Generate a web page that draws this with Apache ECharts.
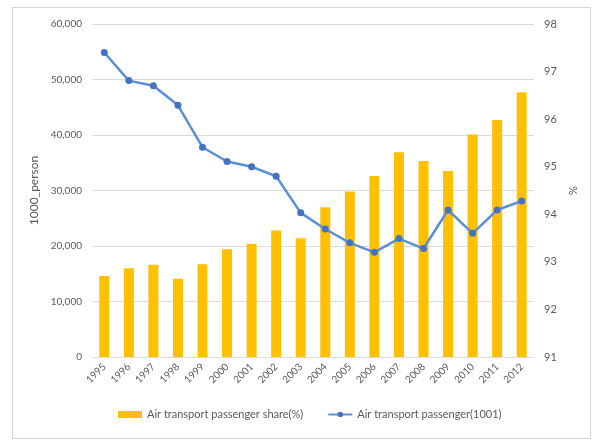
<!DOCTYPE html>
<html>
<head>
<meta charset="utf-8">
<script src="https://cdn.jsdelivr.net/npm/echarts@6/dist/echarts.min.js"></script>
<style>
    html, body { margin: 0; padding: 0; background: #fff; }
    #frame { position: absolute; left: 12px; top: 7px; width: 577px; height: 430px; border: 1px solid #d4d4d4; }
    #main { position: absolute; left: 0; top: 0; width: 598px; height: 441px; }
</style>
</head>
<body>
<div id="frame"></div>
<div id="main"></div>
<script>
let years = ['1995', '1996', '1997', '1998', '1999', '2000', '2001', '2002', '2003', '2004', '2005', '2006', '2007', '2008', '2009', '2010', '2011', '2012']
let shareData = [14600, 16000, 16600, 14100, 16700, 19400, 20400, 22800, 21400, 27000, 29800, 32600, 36900, 35300, 33500, 40100, 42700, 47700]
let passengerData = [97.4, 96.81, 96.7, 96.29, 95.41, 95.11, 95.0, 94.8, 94.03, 93.69, 93.4, 93.2, 93.49, 93.28, 94.09, 93.6, 94.09, 94.28]
let leftTicks = [0, 60000, 10000]
let rightTicks = [91, 98, 1]

let myChart = echarts.init(document.getElementById('main'))
let textColor = '#595959'
let option = {
    backgroundColor: 'transparent',
    textStyle: { fontFamily: 'Lato' },
    grid: { left: 92, right: 64, top: 24, bottom: 84 },
    legend: {
        bottom: 16,
        left: 113,
        itemGap: 24,
        itemWidth: 24,
        itemHeight: 7,
        textStyle: { color: textColor, fontSize: 11, fontFamily: 'Lato' },
        data: [
            { name: 'Air transport passenger share(%)', icon: 'rect' },
            { name: 'Air transport passenger(1001)' }
        ]
    },
    xAxis: {
        type: 'category',
        data: years,
        axisLine: { show: false },
        axisTick: { show: false },
        axisLabel: { rotate: 45, color: textColor, fontSize: 10, margin: 8, interval: 0 }
    },
    yAxis: [
        {
            type: 'value',
            min: leftTicks[0],
            max: leftTicks[1],
            interval: leftTicks[2],
            name: '1000_person',
            nameLocation: 'middle',
            nameGap: 46,
            nameTextStyle: { color: textColor, fontSize: 12 },
            axisLabel: {
                color: textColor, fontSize: 10, margin: 10,
                formatter: function (v) { return v.toLocaleString('en-US') }
            },
            axisLine: { show: false },
            axisTick: { show: false },
            splitLine: { lineStyle: { color: '#dcdcdc', width: 1 } }
        },
        {
            type: 'value',
            min: rightTicks[0],
            max: rightTicks[1],
            interval: rightTicks[2],
            name: '%',
            nameLocation: 'middle',
            nameGap: 30,
            nameRotate: 90,
            nameTextStyle: { color: textColor, fontSize: 11 },
            axisLabel: { color: textColor, fontSize: 11, margin: 10 },
            axisLine: { show: false },
            axisTick: { show: false },
            splitLine: { show: false }
        }
    ],
    series: [
        {
            name: 'Air transport passenger share(%)',
            type: 'bar',
            yAxisIndex: 0,
            barWidth: 10,
            itemStyle: { color: '#FFC000' },
            data: shareData
        },
        {
            name: 'Air transport passenger(1001)',
            type: 'line',
            yAxisIndex: 1,
            symbol: 'circle',
            symbolSize: 7,
            lineStyle: { color: '#5B8FD6', width: 2.5 },
            itemStyle: { color: '#4472C4' },
            data: passengerData
        }
    ]
}
myChart.setOption(option)
</script>
</body>
</html>
